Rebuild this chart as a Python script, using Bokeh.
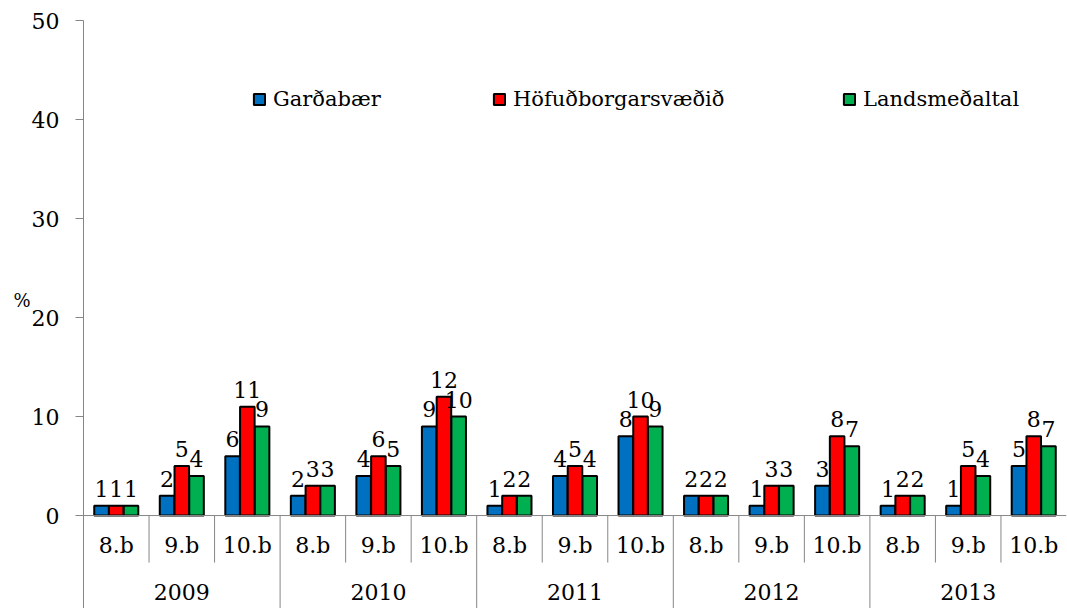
from bokeh.plotting import figure
from bokeh.models import (ColumnDataSource, Range1d, FixedTicker, Span, Legend, LegendItem,
                          LinearAxis)
from bokeh.core.properties import value
from bokeh.embed import file_html
from bokeh.resources import INLINE

years = ["2009", "2010", "2011", "2012", "2013"]
grades = ["8.b", "9.b", "10.b"]
series_names = ["Garðabær", "Höfuðborgarsvæðið", "Landsmeðaltal"]
gardabaer = [1, 2, 6, 2, 4, 9, 1, 4, 8, 2, 1, 3, 1, 1, 5]
hofudborg = [1, 5, 11, 3, 6, 12, 2, 5, 10, 2, 3, 8, 2, 5, 8]
landsmedal = [1, 4, 9, 3, 5, 10, 2, 4, 9, 2, 3, 7, 2, 4, 7]
colors = ["#0070C0", "#FF0000", "#00B050"]
y_ticks = [0, 10, 20, 30, 40, 50]
unit_label = "%"

FONT_NAME = "DejaVu Serif"
FONT = value(FONT_NAME)
FS = "22px"
AXIS_COLOR = "#868686"

n = len(years) * len(grades)
y_bottom = -9.39

p = figure(width=1067, height=608, output_backend="svg", toolbar_location=None,
           x_range=Range1d(0, n), y_range=Range1d(y_bottom, 50),
           x_axis_type=None, min_border_left=83, min_border_right=1,
           min_border_top=20, min_border_bottom=0)
p.outline_line_color = None
p.ygrid.visible = False
p.background_fill_color = "white"
p.border_fill_color = "white"

yax = p.yaxis[0]
yax.ticker = FixedTicker(ticks=y_ticks)
yax.minor_tick_line_color = None
yax.major_tick_in = 0
yax.major_tick_out = 8
yax.axis_line_color = AXIS_COLOR
yax.major_tick_line_color = AXIS_COLOR
yax.major_label_text_font = FONT_NAME
yax.major_label_text_font_size = FS
yax.major_label_text_color = "black"
yax.major_label_standoff = 16

# unit label "%" as an extra left axis with a single labelled tick
unit_axis = LinearAxis(ticker=FixedTicker(ticks=[21.7]),
                       major_label_overrides={21.7: unit_label},
                       axis_line_color=None, major_tick_line_color=None,
                       minor_tick_line_color=None, major_label_standoff=-8,
                       major_label_text_font=FONT_NAME, major_label_text_font_size="18px",
                       major_label_text_color="black")
p.add_layout(unit_axis, "left")

# x axis baseline
p.add_layout(Span(location=0, dimension="width", line_color=AXIS_COLOR, line_width=1))

# separators
sub_x, sub_y0, sub_y1 = [], [], []
for i in range(1, n):
    sub_x.append(i)
    sub_y0.append(0)
    sub_y1.append(y_bottom if i % 3 == 0 else -4.75)
p.segment(x0=sub_x, y0=sub_y0, x1=sub_x, y1=sub_y1, line_color=AXIS_COLOR, line_width=1)

# category labels
cat_x = [i + 0.5 for i in range(n)]
cat_lbl = [grades[i % 3] for i in range(n)]
p.text(x=cat_x, y=[-3.05] * n, text=cat_lbl, text_font=FONT, text_font_size=FS,
       text_align="center", text_baseline="middle", text_color="black")
yr_x = [3 * g + 1.5 for g in range(len(years))]
p.text(x=yr_x, y=[-7.75] * len(years), text=years, text_font=FONT, text_font_size=FS,
       text_align="center", text_baseline="middle", text_color="black")

offsets = [-0.225, 0.0, 0.225]
bar_w = 0.222
renderers = []
for vals, off, col in zip([gardabaer, hofudborg, landsmedal], offsets, colors):
    xs = [i + 0.5 + off for i in range(n)]
    src = ColumnDataSource(dict(x=xs, top=vals, lbl=[str(v) for v in vals]))
    r = p.vbar(x="x", top="top", width=bar_w, bottom=0, source=src,
               fill_color=col, line_color="black", line_width=2)
    renderers.append(r)
    p.text(x="x", y="top", text="lbl", source=src, text_font=FONT, text_font_size=FS,
           text_align="center", text_baseline="alphabetic", y_offset=-17, text_color="black")

# one legend per series so each entry sits where the reference puts it
legend_x = [169, 409, 759]
for nm, r, lx in zip(series_names, renderers, legend_x):
    lg = Legend(items=[LegendItem(label=nm, renderers=[r])],
                orientation="horizontal", location=(lx, 497),
                glyph_width=14, glyph_height=14, label_standoff=7, spacing=0,
                padding=0, margin=0, background_fill_alpha=0, border_line_alpha=0,
                label_text_font=FONT_NAME, label_text_font_size="21px",
                label_text_color="black")
    p.add_layout(lg)

open("out.html", "w").write(file_html(p, INLINE))
